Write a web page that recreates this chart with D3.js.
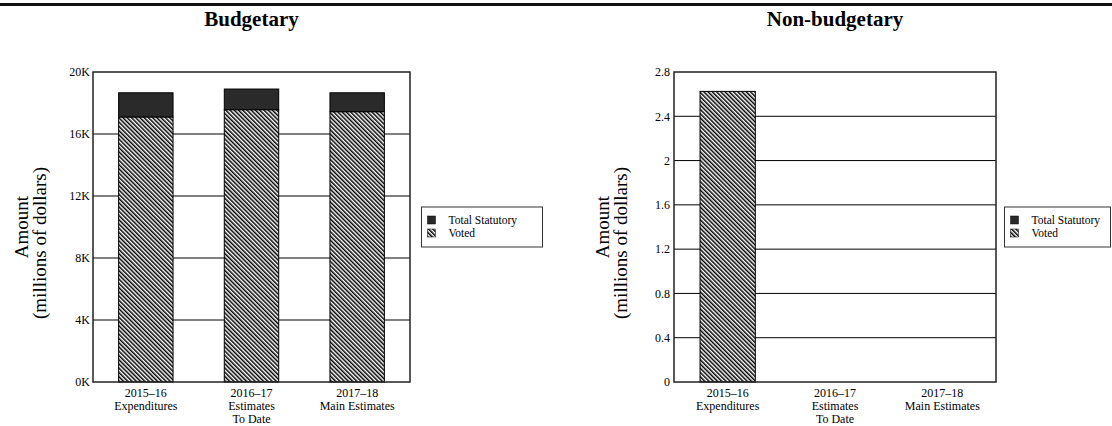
<!DOCTYPE html>
<html><head><meta charset="utf-8">
<script src="https://cdn.jsdelivr.net/npm/d3@7"></script>
<style>
html,body{margin:0;padding:0;background:#fff;}
svg{display:block;}
svg text{font-family:"Liberation Serif","Times New Roman",serif !important;fill:#000;}
</style></head>
<body><svg id="c" width="1112" height="426"></svg>
<script>
const categories = [["2015–16","Expenditures"],["2016–17","Estimates","To Date"],["2017–18","Main Estimates"]];
const seriesNames = ["Total Statutory","Voted"];
const budgetaryVoted = [17100, 17570, 17440];
const budgetaryStatutory = [1560, 1330, 1220];
const budgetaryTicks = [0, 4000, 8000, 12000, 16000, 20000];
const budgetaryTickLabels = ["0K","4K","8K","12K","16K","20K"];
const nonBudgetaryVoted = [2.625, 0, 0];
const nonBudgetaryStatutory = [0, 0, 0];
const nonBudgetaryTicks = [0, 0.4, 0.8, 1.2, 1.6, 2, 2.4, 2.8];
const nonBudgetaryTickLabels = ["0","0.4","0.8","1.2","1.6","2","2.4","2.8"];
const titles = ["Budgetary","Non-budgetary"];
const yTitle = ["Amount","(millions of dollars)"];

const svg = d3.select("#c");
const defs = svg.append("defs");
const pat = defs.append("pattern").attr("id","hatch").attr("patternUnits","userSpaceOnUse")
  .attr("width",3).attr("height",3).attr("patternTransform","rotate(-45)");
pat.append("rect").attr("width",3).attr("height",3).attr("fill","#fff");
pat.append("rect").attr("width",1.5).attr("height",3).attr("fill","#000");

// top border
svg.append("rect").attr("x",0).attr("y",3).attr("width",1112).attr("height",3).attr("fill","#111");

const STAT = "#2a2a2a";

function drawChart(cfg){
  const g = svg.append("g");
  const x = d3.scaleBand().domain(d3.range(categories.length)).range([cfg.x0,cfg.x1]).paddingInner(0.485).paddingOuter(0.2425);
  const y = d3.scaleLinear().domain([cfg.ticks[0], cfg.ticks[cfg.ticks.length-1]]).range([382,72]);
  g.append("g").selectAll("line").data(cfg.ticks.slice(1,-1)).join("line")
    .attr("x1",cfg.x0).attr("x2",cfg.x1).attr("y1",d=>y(d)).attr("y2",d=>y(d))
    .attr("stroke","#000").attr("stroke-width",1);
  const ya = d3.axisLeft(y).tickValues(cfg.ticks).tickFormat((d,i)=>cfg.labels[i]).tickSize(0).tickPadding(cfg.pad);
  const yg = g.append("g").attr("transform",`translate(${cfg.x0},0)`).call(ya);
  yg.attr("font-family",null);
  yg.select(".domain").remove();
  yg.selectAll("text").attr("font-size",12);
  const stack = categories.map((c,i)=>({i, voted:cfg.voted[i], stat:cfg.stat[i]}));
  g.append("g").selectAll("rect").data(stack.filter(d=>d.voted>0)).join("rect")
    .attr("x",d=>x(d.i)).attr("width",x.bandwidth())
    .attr("y",d=>y(d.voted)).attr("height",d=>y(0)-y(d.voted))
    .attr("fill","url(#hatch)").attr("stroke","#000").attr("stroke-width",1);
  g.append("g").selectAll("rect").data(stack.filter(d=>d.stat>0)).join("rect")
    .attr("x",d=>x(d.i)).attr("width",x.bandwidth())
    .attr("y",d=>y(d.voted+d.stat)).attr("height",d=>y(d.voted)-y(d.voted+d.stat))
    .attr("fill",STAT).attr("stroke","#000").attr("stroke-width",1);
  g.append("rect").attr("x",cfg.x0).attr("y",72).attr("width",cfg.x1-cfg.x0).attr("height",310)
    .attr("fill","none").attr("stroke","#222").attr("stroke-width",1.5);
  const xl = g.append("g").selectAll("text").data(categories).join("text")
    .attr("text-anchor","middle").attr("font-size",12)
    .attr("x",(d,i)=>x(i)+x.bandwidth()/2).attr("y",397);
  xl.selectAll("tspan").data(d=>d).join("tspan")
    .attr("x",function(){return this.parentNode.getAttribute("x");})
    .attr("dy",(d,i)=>i===0?0:13).text(d=>d);
  g.append("text").attr("x",(cfg.x0+cfg.x1)/2).attr("y",26).attr("text-anchor","middle")
    .attr("font-size",21).attr("font-weight","bold").text(cfg.title);
  g.append("text").attr("transform",`translate(${cfg.yt},227) rotate(-90)`)
    .attr("text-anchor","middle").attr("font-size",19).text(yTitle[0]);
  g.append("text").attr("transform",`translate(${cfg.yt+18},243) rotate(-90)`)
    .attr("text-anchor","middle").attr("font-size",19).text(yTitle[1]);
  const lg = g.append("g").attr("transform",`translate(${cfg.lx},207)`);
  lg.append("rect").attr("width",cfg.lw).attr("height",40).attr("fill","#fff").attr("stroke","#333").attr("stroke-width",1);
  const items = lg.selectAll("g").data(seriesNames).join("g").attr("transform",(d,i)=>`translate(6,${9+i*13})`);
  items.append("rect").attr("width",8).attr("height",8)
    .attr("fill",(d,i)=>i===0?STAT:"url(#hatch)").attr("stroke","#000").attr("stroke-width",0.5);
  items.append("text").attr("x",21).attr("y",8).attr("font-size",11.5).text(d=>d);
}

drawChart({x0:93,x1:410,ticks:budgetaryTicks,labels:budgetaryTickLabels,voted:budgetaryVoted,stat:budgetaryStatutory,
  title:titles[0],yt:28,lx:421.5,lw:121,pad:3});
drawChart({x0:674,x1:996,ticks:nonBudgetaryTicks,labels:nonBudgetaryTickLabels,voted:nonBudgetaryVoted,stat:nonBudgetaryStatutory,
  title:titles[1],yt:609,lx:1004.5,lw:106,pad:4});
</script></body></html>
